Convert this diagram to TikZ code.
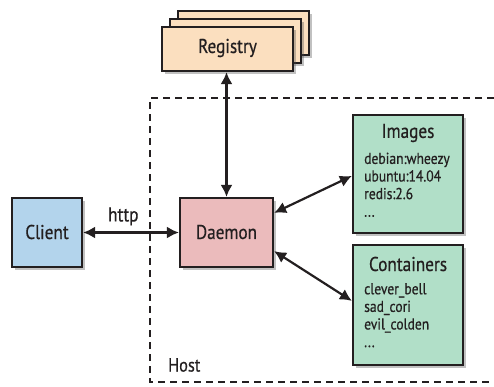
\documentclass[tikz,border=0pt]{standalone}
\usepackage{fontspec}
\setmainfont[FakeStretch=0.86,FakeBold=0.6]{PT Sans}
\usetikzlibrary{arrows.meta,shadows}
\definecolor{regfill}{HTML}{FBDFBF}
\definecolor{clientfill}{HTML}{B3D4EC}
\definecolor{daemonfill}{HTML}{EBBBBC}
\definecolor{greenfill}{HTML}{B1DFC8}
\definecolor{ink}{HTML}{231F20}
\tikzset{
  box/.style={draw=ink, line width=2.2pt, inner sep=0pt,
    drop shadow={shadow xshift=2.5pt, shadow yshift=-3pt, opacity=0.35, fill=black!70}},
  conn/.style={draw=ink, line width=2.2pt, {Latex[length=12pt,width=12pt]}-{Latex[length=12pt,width=12pt]}},
  title/.style={font=\fontsize{20}{22}\selectfont, text=ink, inner sep=0pt},
  itemlist/.style={font=\fontsize{15.8}{17.6}\selectfont, text=ink, inner sep=0pt, align=left, anchor=north west},
  host/.style={draw=ink, line width=2.5pt, dash pattern=on 7pt off 5pt}
}
\begin{document}
\begin{tikzpicture}[x=1pt,y=-1pt]
\useasboundingbox (0,0) rectangle (494,386);
% host dashed border
\coordinate (h1) at (494,98);
\coordinate (h2) at (150,98);
\coordinate (h3) at (150,382);
\coordinate (h4) at (494,382);
\draw[host] (h1) -- (h2) -- (h3) -- (h4);
\node[title, font=\fontsize{19}{21}\selectfont, anchor=west] (hostlbl) at (168,365) {Host};
% registry stack
\node[box, fill=regfill, minimum width=131pt, minimum height=44pt] (reg3) at (243.5,33) {};
\node[box, fill=regfill, minimum width=131pt, minimum height=44pt] (reg2) at (235.5,41) {};
\node[box, fill=regfill, minimum width=131pt, minimum height=44pt] (reg) at (227.5,49) {};
\node[title] (regt) at (227.5,48) {Registry};
% client, daemon
\node[box, fill=clientfill, minimum width=70pt, minimum height=69pt] (client) at (47,232.5) {};
\node[title] (clientt) at (47,232) {Client};
\node[box, fill=daemonfill, minimum width=93pt, minimum height=69pt] (daemon) at (226.5,232.5) {};
\node[title] (daemont) at (226.5,232) {Daemon};
% images
\node[box, fill=greenfill, minimum width=110pt, minimum height=118pt] (images) at (408,174) {};
\node[title] (imagest) at (408,133) {Images};
\node[itemlist] (ilist) at (364,152.5) {debian:wheezy\\ubuntu:14.04\\redis:2.6\\...};
% containers
\node[box, fill=greenfill, minimum width=110pt, minimum height=120pt] (containers) at (408,305) {};
\node[title] (containerst) at (408,264) {Containers};
\node[itemlist] (clist) at (364,283) {clever\_bell\\sad\_cori\\evil\_colden\\...};
% connectors
\draw[conn] (reg.south -| daemon.north) -- (daemon.north);
\draw[conn] (client.east) -- node[title, pos=0.42, above=6pt] (http) {http} (daemon.west);
\draw[conn] ([yshift=-16pt]daemon.north east) -- ([yshift=-62pt]images.north west);
\draw[conn] ([yshift=17pt]daemon.south east) -- ([yshift=-57pt]containers.north west);
\end{tikzpicture}
\end{document}
